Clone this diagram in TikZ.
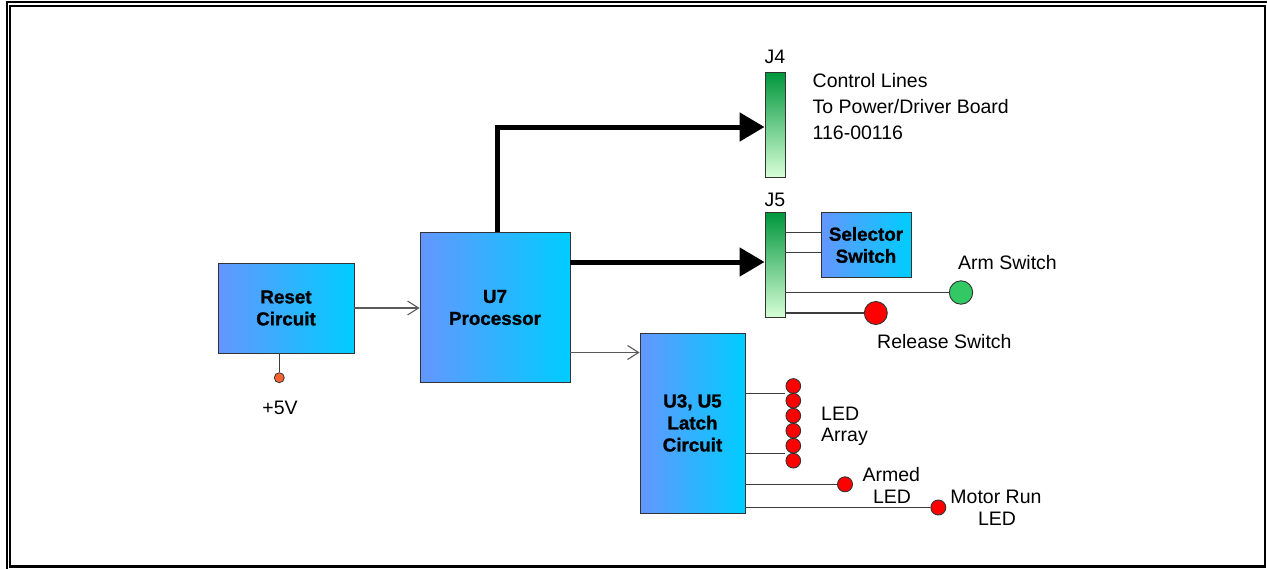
\documentclass[tikz,border=0pt]{standalone}
\usepackage{fontspec}
\setmainfont{Liberation Sans}
\newfontface\blkfont{Liberation Sans Bold}[FakeBold=1.2]
\usetikzlibrary{arrows.meta}
\definecolor{boxL}{RGB}{100,150,255}
\definecolor{boxR}{RGB}{0,205,255}
\definecolor{conT}{RGB}{0,150,60}
\definecolor{conB}{RGB}{215,255,215}
\definecolor{lineC}{RGB}{60,60,60}
\definecolor{ledR}{RGB}{255,0,0}
\definecolor{ledG}{RGB}{50,200,100}
\definecolor{pwr}{RGB}{250,100,50}
\begin{document}
\begin{tikzpicture}[x=1pt,y=-1pt,
 blk/.style={draw=black!80, line width=0.9pt, left color=boxL, right color=boxR, align=center,
   font=\blkfont\fontsize{18.8}{22}\selectfont, inner sep=0pt},
 conn/.style={draw=black!80, line width=0.9pt, top color=conT, bottom color=conB,
   minimum width=20pt, minimum height=105pt, inner sep=0pt},
 lbl/.style={font=\fontsize{19.5}{25.7}\selectfont, inner sep=0pt},
 wire/.style={draw=lineC, line width=1.1pt},
 bus/.style={draw=black, line width=5pt, -{Triangle[length=25pt,width=28pt]}},
 sig/.style={draw=black!65, line width=1.1pt, -{Straight Barb[length=11pt,width=14pt]}},
 led/.style={circle, draw=black!80, line width=0.9pt, fill=ledR, inner sep=0pt, minimum size=#1},
 led/.default=15pt
]
\useasboundingbox (0,0) rectangle (1267,568);
\clip (0,0) rectangle (1267,568);
% frame
\draw[line width=2.4pt] (7,2) rectangle (1280,580);
\draw[line width=2.6pt] (10,6) rectangle (1264.8,566.7);

% blocks
\node[blk, minimum width=136pt, minimum height=90pt] (reset) at (286,308) {Reset\\Circuit};
\node[blk, minimum width=150pt, minimum height=150pt] (u7) at (495,307.5) {U7\\Processor};
\node[blk, minimum width=105pt, minimum height=180pt] (latch) at (692.5,423) {U3, U5\\Latch\\Circuit};
\node[blk, minimum width=90pt, minimum height=65pt] (sel) at (866,245) {Selector\\Switch};
\node[conn] (j4) at (775,124.5) {};
\node[conn] (j5) at (775,265) {};

% labels
\node[lbl, anchor=base] (j4l) at (775,63) {J4};
\node[lbl, anchor=base] (j5l) at (775,206.5) {J5};
\node[lbl, anchor=base west] (cl1) at (812.5,87.3) {Control Lines};
\node[lbl, anchor=base west] (cl2) at (812.5,113.3) {To Power/Driver Board};
\node[lbl, anchor=base west] (cl3) at (812.5,139) {116-00116};
\node[lbl, anchor=base west] (arml) at (958,269) {Arm Switch};
\node[lbl, anchor=base west] (rell) at (877,348.3) {Release Switch};
\node[lbl, anchor=base] (p5l) at (280,414) {+5V};
\node[lbl, anchor=base west] (la1) at (821,420) {LED};
\node[lbl, anchor=base west] (la2) at (821,441.7) {Array};
\node[lbl, anchor=base] (ar1) at (891.3,481) {Armed};
\node[lbl, anchor=base] (ar2) at (892,503.3) {LED};
\node[lbl, anchor=base] (mr1) at (996,503.5) {Motor Run};
\node[lbl, anchor=base] (mr2) at (997,525.5) {LED};

% power dot
\node[circle, draw=black!80, line width=0.8pt, fill=pwr, inner sep=0pt, minimum size=10pt] (p5) at (279.3,377.7) {};
\draw[wire] (p5.north |- reset.south) -- (p5.north);

% buses
\draw[bus] ([xshift=2.5pt]u7.north) |- ([yshift=-2.5pt]j4.west);
\coordinate (j5in) at ([yshift=3pt]j5.west);
\draw[bus] (u7.east |- j5in) -- (j5in);

% thin signals
\draw[sig] (reset.east) -- (reset.east -| u7.west);
\coordinate (lin) at ([yshift=-45pt]u7.east);
\draw[sig] (lin) -- (lin -| latch.west);

% selector switch lines
\coordinate (s1) at ([yshift=12.7pt]sel.west);
\coordinate (s2) at ([yshift=-7.3pt]sel.west);
\draw[wire] (s1 -| j5.east) -- (s1);
\draw[wire] (s2 -| j5.east) -- (s2);

% arm / release switches
\node[led=23.4pt, fill=ledG] (arm) at (961,292.5) {};
\node[led=23pt] (rel) at (875.8,313) {};
\draw[wire] (j5.east |- arm) -- (arm);
\draw[wire] (j5.east |- rel) -- (rel);

% LED array
\foreach \i/\yy in {1/386,2/400.7,3/415.7,4/430.7,5/445.7,6/460.7}
  \node[led=14.7pt] (a\i) at (793.3,\yy) {};
\coordinate (ledIn) at ([xshift=-8pt]a1.center);
\coordinate (lt) at ([yshift=29.7pt]latch.east);
\coordinate (lb) at ([yshift=-30.3pt]latch.east);
\draw[wire] (lt) -- (lt -| ledIn);
\draw[wire] (lb) -- (lb -| ledIn);

% armed / motor run LEDs
\node[led=15pt] (armed) at (845,484.3) {};
\node[led=15pt] (motor) at (938.3,507.5) {};
\draw[wire] (latch.east |- armed) -- (armed);
\draw[wire] (latch.east |- motor) -- (motor);
\end{tikzpicture}
\end{document}
